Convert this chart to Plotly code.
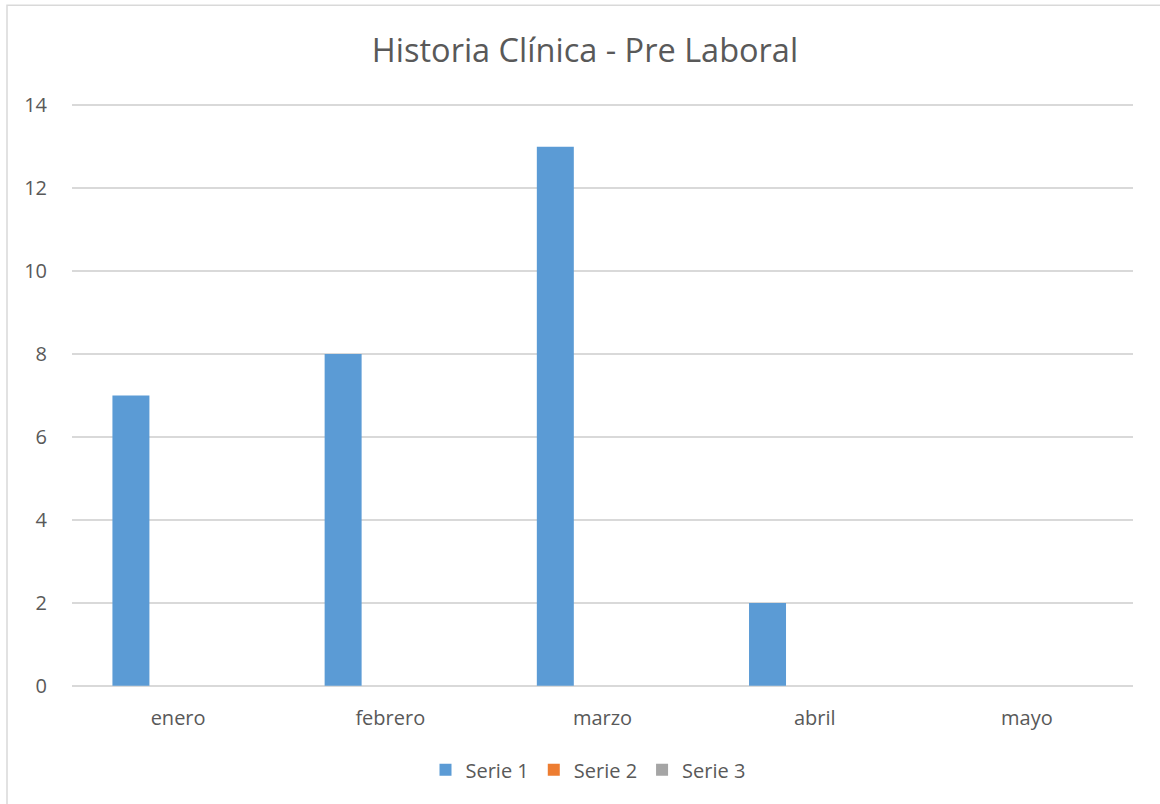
import plotly.graph_objects as go

categories = ["enero", "febrero", "marzo", "abril", "mayo"]
serie1 = [7, 8, 13, 2, 0]
serie2 = [0, 0, 0, 0, 0]
serie3 = [0, 0, 0, 0, 0]
series_names = ["Serie 1", "Serie 2", "Serie 3"]
y_ticks = [0, 2, 4, 6, 8, 10, 12, 14]

colors = ["#5b9bd5", "#ed7d31", "#a5a5a5"]
W, H = 1160, 804
pad = 0.1
unit = (686 - 105) / 14.0
L, R = 72, 27
T = 105 - pad * unit
B = 804 - (686 + pad * unit)
pw, ph = W - L - R, H - T - B

fig = go.Figure()
for name, vals, c in zip(series_names, [serie1, serie2, serie3], colors):
    fig.add_trace(go.Bar(x=categories, y=vals, name=name,
                         marker=dict(color=c, line=dict(width=0))))

font = "'Open Sans', sans-serif"
fig.update_layout(
    width=W, height=H,
    margin=dict(l=L, r=R, t=T, b=B, pad=0),
    paper_bgcolor="white", plot_bgcolor="white",
    barmode="group", bargap=0.333, bargroupgap=0.216,
    title=dict(text="Historia Clínica - Pre Laboral", x=(585 - L) / pw, xref="paper",
               xanchor="center", y=1 - 51 / H, yanchor="middle",
               font=dict(family=font, size=32.5, color="#595959")),
    font=dict(family=font, size=20, color="#595959"),
    legend=dict(orientation="h", x=(588 - L) / pw, xanchor="center",
                y=-(770 - (T + ph)) / ph, yanchor="middle",
                font=dict(size=20, color="#595959"), itemwidth=30,
                traceorder="normal"),
    showlegend=True,
    xaxis=dict(showgrid=False, zeroline=False, showline=False,
               ticklabelstandoff=14, tickfont=dict(size=20, color="#595959")),
    yaxis=dict(range=[-pad, 14 + pad], tickvals=y_ticks, showgrid=True,
               gridcolor="#d9d9d9", gridwidth=1.5, zeroline=False,
               showline=False, ticklabelstandoff=24,
               tickfont=dict(size=20, color="#595959")),
    shapes=[dict(type="rect", xref="paper", yref="paper",
                 x0=(7 - L) / pw, x1=(W + 10 - L) / pw,
                 y0=-(H + 10 - T - ph) / ph, y1=(T + ph - 5) / ph,
                 line=dict(color="#d9d9d9", width=1.5), fillcolor="rgba(0,0,0,0)",
                 layer="below")],
)

fig.write_html("out.html", config={"displayModeBar": False})

with open("out.html", "r", encoding="utf-8") as f:
    html = f.read()
if "<body>" in html:
    html = html.replace("<body>", '<body style="margin:0;padding:0;overflow:hidden">', 1)
else:
    html = html.replace("<head>", "<head><style>body{margin:0;padding:0;overflow:hidden}</style>", 1)
with open("out.html", "w", encoding="utf-8") as f:
    f.write(html)
